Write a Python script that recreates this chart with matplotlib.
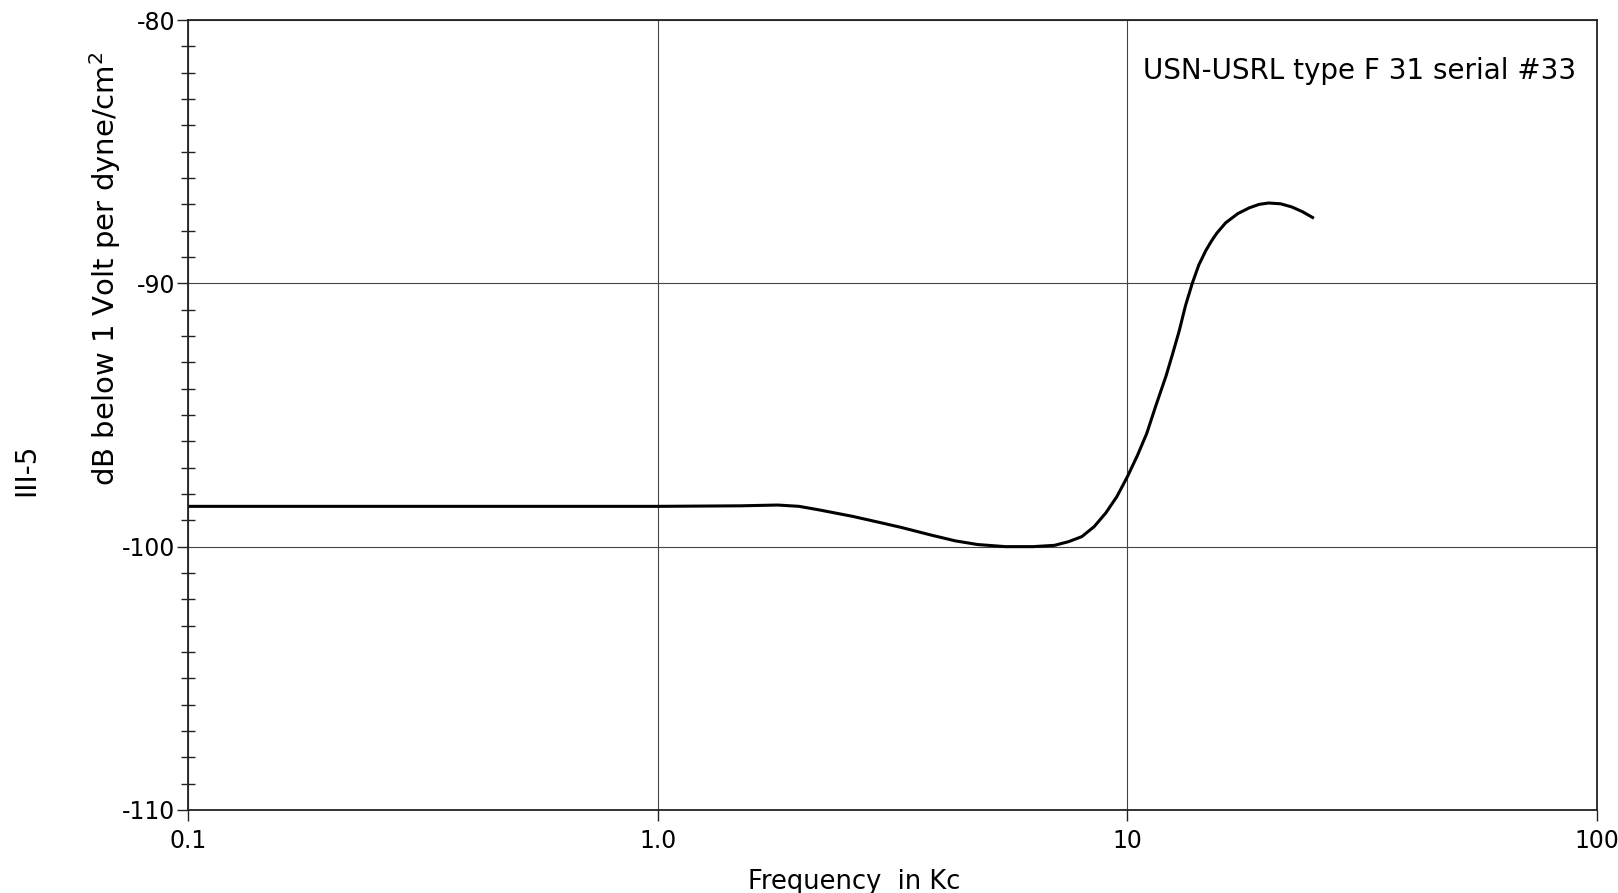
import matplotlib.pyplot as plt
from matplotlib.ticker import FixedLocator, NullLocator, MultipleLocator

plt.rcParams["axes.unicode_minus"] = False
plt.rcParams["font.family"] = "DejaVu Sans"

# response curve (frequency in kc, dB)
freq = [0.1, 0.3, 1.0, 1.5, 1.8, 2.0, 2.2, 2.6, 3.0, 3.3, 3.8, 4.3, 4.8, 5.5,
        6.3, 7.0, 7.5, 8.0, 8.5, 9.0, 9.5, 10.0, 10.5, 11.0, 11.5, 12.1, 12.5,
        12.9, 13.3, 13.75, 14.2, 14.7, 15.1, 15.5, 16.2, 17.2, 18.2, 19.1,
        20.0, 21.2, 22.4, 23.6, 24.8]
db = [-98.47, -98.47, -98.47, -98.45, -98.42, -98.47, -98.6, -98.85, -99.1,
      -99.27, -99.55, -99.78, -99.92, -100.0, -100.0, -99.95, -99.81, -99.62,
      -99.24, -98.72, -98.1, -97.35, -96.55, -95.7, -94.65, -93.5, -92.65,
      -91.8, -90.85, -90.0, -89.3, -88.75, -88.4, -88.1, -87.7, -87.35,
      -87.13, -87.0, -86.95, -86.98, -87.1, -87.28, -87.5]

x_ticks = [0.1, 1.0, 10, 100]
x_labels = ["0.1", "1.0", "10", "100"]
y_ticks = [-110, -100, -90, -80]
y_labels = ["-110", "-100", "-90", "-80"]

fig = plt.figure(figsize=(16.18, 8.93), dpi=100)
ax = fig.add_axes([0.1162, 0.093, 0.8708, 0.8846])

ax.plot(freq, db, color="black", linewidth=2.2)

ax.set_xscale("log")
ax.set_xlim(0.1, 100)
ax.set_ylim(-110, -80)

ax.xaxis.set_major_locator(FixedLocator(x_ticks))
ax.set_xticklabels(x_labels)
ax.xaxis.set_minor_locator(NullLocator())
ax.yaxis.set_major_locator(FixedLocator(y_ticks))
ax.set_yticklabels(y_labels)
ax.yaxis.set_minor_locator(MultipleLocator(1))

ax.tick_params(axis="both", which="major", labelsize=17, direction="out",
               length=8, width=1, color="#222222", pad=6)
ax.tick_params(axis="y", which="major", pad=1)
ax.tick_params(axis="y", which="minor", direction="inout", length=10,
               width=1, color="#222222")

ax.grid(True, which="major", color="#444444", linewidth=0.8)
for s in ax.spines.values():
    s.set_linewidth(1.3)
    s.set_color("#222222")

ax.set_xlabel("Frequency  in Kc", fontsize=18.5)
ax.xaxis.set_label_coords(0.473, -0.075)
ax.set_ylabel("dB below 1 Volt per dyne/cm$^2$", fontsize=21)
ax.yaxis.set_label_coords(-0.046, 0.685)

ax.text(0.985, 0.935, "USN-USRL type F 31 serial #33", transform=ax.transAxes,
        ha="right", va="center", fontsize=20)

fig.text(0.016, 0.474, "III-5", rotation=90, ha="center", va="center", fontsize=20)

fig.savefig("out.png", dpi=100, facecolor="white")
